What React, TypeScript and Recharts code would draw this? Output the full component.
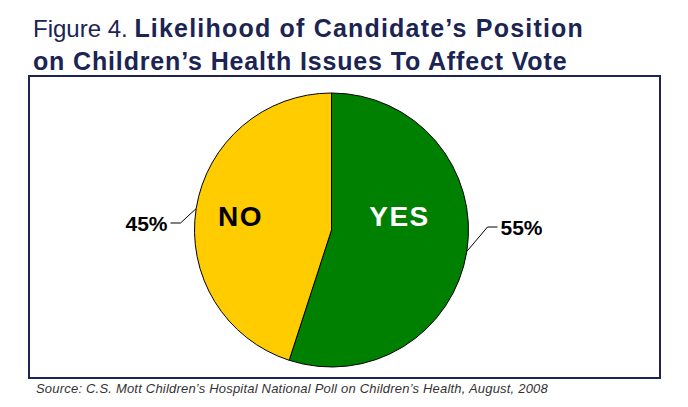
import { PieChart, Pie, Cell } from "recharts"

const answers = ["YES", "NO"]
const shares = [55, 45]
const sliceColors = ["#008000", "#FFCC00"]
const innerTextColors = ["#FFFFFF", "#000000"]

const navy = "#1B2453"

// label placement relative to pie centre, per answer
const labelOffsets: Record<string, { inDx: number; inDy: number; elbowDx: number; elbowDy: number; side: number }> = {
  YES: { inDx: 68, inDy: -14, elbowDx: 156, elbowDy: -3, side: 1 },
  NO: { inDx: -91, inDy: -14, elbowDx: -151, elbowDy: -7, side: -1 },
}

const RADIAN = Math.PI / 180

function renderLabel(props: any) {
  const { cx, cy, midAngle, outerRadius, name, value, index } = props
  const o = labelOffsets[name]
  const sx = cx + outerRadius * Math.cos(-midAngle * RADIAN)
  const sy = cy + outerRadius * Math.sin(-midAngle * RADIAN)
  const ex = cx + o.elbowDx
  const ey = cy + o.elbowDy
  const tx = ex + o.side * 10
  return (
    <g>
      <text
        x={cx + o.inDx}
        y={cy + o.inDy}
        textAnchor="middle"
        dominantBaseline="central"
        fill={innerTextColors[index]}
        fontFamily="'Liberation Sans', Arial, sans-serif"
        fontWeight="bold"
        fontSize={28}
        letterSpacing={1.5}
      >
        {name}
      </text>
      <polyline points={`${sx},${sy} ${ex},${ey} ${tx},${ey}`} fill="none" stroke="#000" strokeWidth={1} />
      <text
        x={tx + o.side * 3}
        y={ey}
        textAnchor={o.side > 0 ? "start" : "end"}
        dominantBaseline="central"
        fill="#000"
        fontFamily="'Liberation Sans', Arial, sans-serif"
        fontWeight="bold"
        fontSize={21}
      >
        {value}%
      </text>
    </g>
  )
}

export default function App() {
  const data = answers.map((name, i) => ({ name, value: shares[i] }))
  return (
    <div
      style={{
        position: "absolute",
        left: 0,
        top: 0,
        width: 688,
        height: 407,
        background: "#fff",
        fontFamily: "'Liberation Sans', Arial, sans-serif",
        overflow: "hidden",
      }}
    >
      <div style={{ position: "absolute", left: 33, top: 12, color: navy, fontSize: 24, lineHeight: "32px", whiteSpace: "nowrap" }}>
        <div>
          Figure 4. <b style={{ fontSize: 25, letterSpacing: 1.2 }}>Likelihood of Candidate’s Position</b>
        </div>
        <div>
          <b style={{ fontSize: 25, letterSpacing: 0.85 }}>on Children’s Health Issues To Affect Vote</b>
        </div>
      </div>
      <div
        style={{
          position: "absolute",
          left: 28,
          top: 75,
          width: 629,
          height: 300,
          border: `2px solid ${navy}`,
        }}
      />
      <div style={{ position: "absolute", left: 0, top: 0 }}>
        <PieChart width={688} height={407} margin={{ top: 0, right: 0, bottom: 0, left: 0 }}>
          <Pie
            data={data}
            dataKey="value"
            nameKey="name"
            cx={331.5}
            cy={230}
            outerRadius={137}
            startAngle={90}
            endAngle={-270}
            stroke="#000"
            strokeWidth={1}
            label={renderLabel}
            labelLine={false}
            isAnimationActive={false}
          >
            {data.map((d, i) => (
              <Cell key={d.name} fill={sliceColors[i]} />
            ))}
          </Pie>
        </PieChart>
      </div>
      <div
        style={{
          position: "absolute",
          left: 36,
          top: 381,
          fontSize: 13,
          fontStyle: "italic",
          color: "#333",
          letterSpacing: 0.2,
          whiteSpace: "nowrap",
        }}
      >
        Source: C.S. Mott Children’s Hospital National Poll on Children’s Health, August, 2008
      </div>
    </div>
  )
}
